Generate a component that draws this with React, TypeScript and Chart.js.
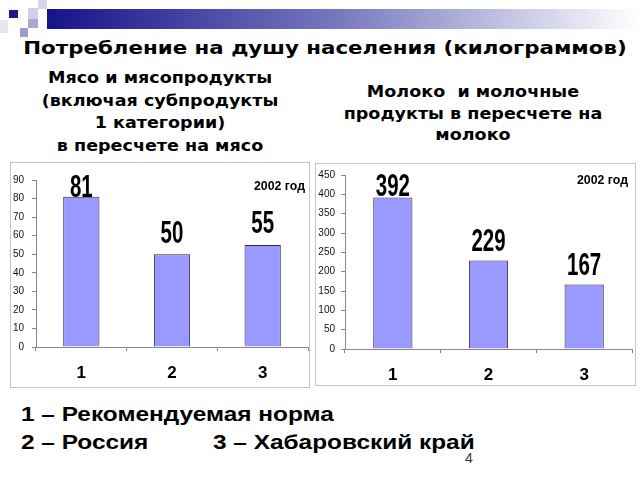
import React, { useEffect, useRef } from "react";
import { Chart, registerables } from "chart.js";

Chart.register(...registerables);

const categories = ["1", "2", "3"];
const meatValues = [81, 50, 55];
const milkValues = [392, 229, 167];
const meatMax = 90;
const meatStep = 10;
const milkMax = 450;
const milkStep = 50;
const yearNote = "2002 год";
const mainTitle = "Потребление на душу населения (килограммов)";
const meatTitle = ["Мясо и мясопродукты", "(включая субпродукты", "1 категории)", "в пересчете на мясо"];
const milkTitle = ["Молоко  и молочные", "продукты в пересчете на", "молоко"];
const legendLine1 = "1 – Рекомендуемая норма";
const legendLine2a = "2 – Россия";
const legendLine2b = "3 – Хабаровский край";
const pageNumber = "4";

const NARROW = '"Liberation Sans", Arial, sans-serif';
const SANS = '"Liberation Sans", Arial, sans-serif';
const HEAD = '"DejaVu Sans", Verdana, sans-serif';

const valueLabelPlugin = {
  id: "valueLabels",
  afterDatasetsDraw(chart: any, _args: any, opts: any) {
    const ctx = chart.ctx as CanvasRenderingContext2D;
    const meta = chart.getDatasetMeta(0);
    const data = chart.data.datasets[0].data as number[];
    const area = chart.chartArea;
    ctx.save();
    ctx.fillStyle = "#000";
    ctx.textAlign = "center";
    ctx.textBaseline = "middle";
    ctx.font = `bold ${opts.size}px ${NARROW}`;
    meta.data.forEach((el: any, i: number) => {
      const y = Math.max(el.y - opts.offset, area.top + opts.minTop);
      ctx.save();
      ctx.translate(el.x, y);
      ctx.scale(opts.squeeze, 1);
      ctx.fillText(String(data[i]), 0, 0);
      ctx.restore();
    });
    ctx.font = `bold 13px ${NARROW}`;
    ctx.textAlign = "right";
    ctx.save();
    ctx.translate(area.right - opts.noteDx, area.top + opts.noteDy);
    ctx.scale(0.95, 1);
    ctx.fillText(opts.note, 0, 0);
    ctx.restore();
    ctx.restore();
  },
};

type BarProps = {
  values: number[];
  max: number;
  step: number;
  width: number;
  height: number;
  yWidth: number;
  xHeight: number;
  padTop: number;
  padRight: number;
  barPct: number;
  yPad: number;
  labelOpts: any;
};

function BarChart(p: BarProps) {
  const ref = useRef<HTMLCanvasElement | null>(null);
  useEffect(() => {
    if (!ref.current) return;
    const chart = new Chart(ref.current, {
      type: "bar",
      data: {
        labels: categories,
        datasets: [
          {
            data: p.values,
            backgroundColor: "#9999ff",
            borderColor: "#2a2a40",
            borderWidth: 1,
            barPercentage: p.barPct,
            categoryPercentage: 1,
          },
        ],
      },
      options: {
        animation: false,
        responsive: false,
        devicePixelRatio: 1,
        layout: { padding: { top: p.padTop, right: p.padRight, left: 0, bottom: 0 } },
        plugins: {
          legend: { display: false },
          tooltip: { enabled: false },
          title: { display: false },
          valueLabels: { ...p.labelOpts, note: yearNote },
        } as any,
        scales: {
          x: {
            grid: { drawOnChartArea: false, drawTicks: true, tickLength: 4, color: "#888", offset: true },
            border: { display: true, color: "#888" },
            ticks: { color: "#000", font: { family: NARROW, size: 17, weight: "bold" }, padding: 12 },
            afterFit: (s: any) => {
              s.height = p.xHeight;
            },
          },
          y: {
            min: 0,
            max: p.max,
            grid: { drawOnChartArea: false, drawTicks: true, tickLength: 4, color: "#888" },
            border: { display: true, color: "#888" },
            ticks: { stepSize: p.step, color: "#111", font: { family: NARROW, size: 10 }, padding: p.yPad },
            afterFit: (s: any) => {
              s.width = p.yWidth;
            },
          },
        },
      },
      plugins: [valueLabelPlugin as any],
    });
    return () => chart.destroy();
  }, []);
  return <canvas ref={ref} width={p.width} height={p.height} style={{ display: "block" }} />;
}

const abs = (l: number, t: number, extra: React.CSSProperties = {}): React.CSSProperties => ({
  position: "absolute",
  left: l,
  top: t,
  ...extra,
});

const legendStyle: React.CSSProperties = {
  fontFamily: SANS,
  fontWeight: "bold",
  fontSize: 20,
  lineHeight: "24px",
  color: "#000",
  whiteSpace: "pre",
  transform: "scaleX(1.22)",
  transformOrigin: "left center",
};

export default function App() {
  return (
    <div style={{ position: "absolute", left: 0, top: 0, width: 640, height: 480, background: "#fff", overflow: "hidden" }}>
      {/* decoration */}
      <div style={abs(0, 20, { width: 8, height: 13, background: "#e6e6f3" })} />
      <div style={abs(9, 10, { width: 9, height: 8, background: "#1c1c84" })} />
      <div style={abs(38, 0, { width: 9, height: 9, background: "#d6d6eb" })} />
      <div style={abs(47, 9, { width: 593, height: 20, background: "linear-gradient(to right, #14148a, #7a7ac0 50%, #ffffff)" })} />
      <div style={abs(28, 8, { width: 10, height: 11, background: "#d0d0e8" })} />
      <div style={abs(28, 19, { width: 10, height: 9, background: "#a8a8d4" })} />
      <div style={abs(20, 28, { width: 8, height: 9, background: "#9c9cce" })} />

      <div style={abs(0, 36, { width: 650, textAlign: "center", fontFamily: HEAD, fontWeight: "bold", fontSize: 18, lineHeight: "24px", color: "#000", transform: "scaleX(1.186)", transformOrigin: "325px center" })}>
        {mainTitle}
      </div>
      <div style={abs(0, 67, { width: 320, textAlign: "center", fontFamily: HEAD, fontWeight: "bold", fontSize: 15, lineHeight: "22.5px", color: "#000", transform: "scaleX(1.17)" })}>
        {meatTitle.map((s, i) => (
          <div key={i}>{s}</div>
        ))}
      </div>
      <div style={abs(313, 82, { width: 320, textAlign: "center", fontFamily: HEAD, fontWeight: "bold", fontSize: 15, lineHeight: "21.5px", color: "#000", whiteSpace: "pre", transform: "scaleX(1.17)" })}>
        {milkTitle.map((s, i) => (
          <div key={i}>{s}</div>
        ))}
      </div>

      <div style={abs(10, 162, { width: 300, height: 226, boxSizing: "border-box", border: "1px solid #c4c4c4" })} />
      <div style={abs(10, 162)}>
        <BarChart
          values={meatValues}
          max={meatMax}
          step={meatStep}
          width={300}
          height={226}
          yWidth={26}
          xHeight={41}
          padTop={18}
          padRight={2}
          barPct={0.4}
          yPad={8}
          labelOpts={{ size: 31, offset: 20, minTop: 8, squeeze: 0.66, noteDx: 3, noteDy: 6 }}
        />
      </div>

      <div style={abs(315, 163, { width: 321, height: 223, boxSizing: "border-box", border: "1px solid #c4c4c4" })} />
      <div style={abs(315, 163)}>
        <BarChart
          values={milkValues}
          max={milkMax}
          step={milkStep}
          width={320}
          height={223}
          yWidth={30}
          xHeight={37}
          padTop={11}
          padRight={3}
          barPct={0.41}
          yPad={6}
          labelOpts={{ size: 31, offset: 18, minTop: 12, squeeze: 0.66, noteDx: 4, noteDy: 5 }}
        />
      </div>

      <div style={abs(21, 402, legendStyle)}>{legendLine1}</div>
      <div style={abs(21, 430, legendStyle)}>{legendLine2a}</div>
      <div style={abs(213, 430, legendStyle)}>{legendLine2b}</div>
      <div style={abs(465, 450, { fontFamily: SANS, fontSize: 14, lineHeight: "16px", color: "#333" })}>{pageNumber}</div>
    </div>
  );
}
